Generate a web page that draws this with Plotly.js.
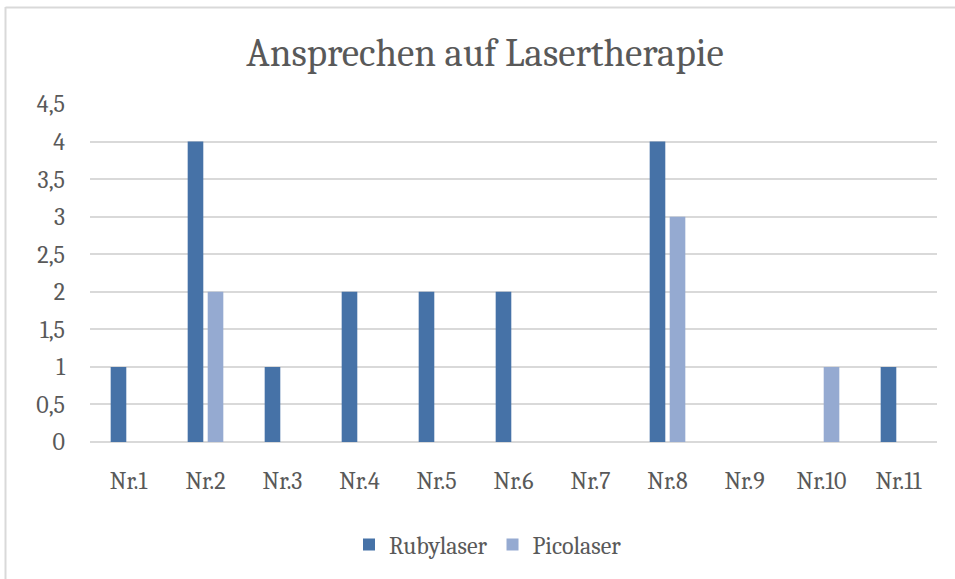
<!DOCTYPE html>
<html>
<head>
<meta charset="utf-8">
<script src="https://cdn.plot.ly/plotly-3.0.1.min.js"></script>
<style>html,body{margin:0;padding:0;background:#fff;}#chart{width:955px;height:579px;}</style>
</head>
<body>
<div id="chart"></div>
<script>
const categories = ["Nr.1","Nr.2","Nr.3","Nr.4","Nr.5","Nr.6","Nr.7","Nr.8","Nr.9","Nr.10","Nr.11"];
const rubylaser = [1,4,1,2,2,2,0,4,0,0,1];
const picolaser = [0,2,0,0,0,0,0,3,0,1,0];
const yTickVals = [0,0.5,1,1.5,2,2.5,3,3.5,4,4.5];
const yTickText = ["0","0,5","1","1,5","2","2,5","3","3,5","4","4,5"];

const W = 955, H = 579;
const M = {l: 90, r: 18, t: 104, b: 137};
const pw = W - M.l - M.r, ph = H - M.t - M.b;
const px = v => (v - M.l) / pw;
const py = v => (H - M.b - v) / ph;

const font = "Cambria, 'DejaVu Serif', 'Liberation Serif', serif";
const traces = [
  {type: 'bar', name: 'Rubylaser', x: categories, y: rubylaser, marker: {color: '#4672A7'}},
  {type: 'bar', name: 'Picolaser', x: categories, y: picolaser, marker: {color: '#95AAD1'}}
];
const layout = {
  width: W, height: H,
  margin: M,
  paper_bgcolor: '#fff', plot_bgcolor: '#fff',
  font: {family: font, color: '#595959', size: 24},
  title: {text: 'Ansprechen auf Lasertherapie', font: {family: font, size: 39, color: '#595959'}, x: 485/W, xanchor: 'center', y: 1 - 52/H, yanchor: 'middle'},
  barmode: 'group', bargap: 0.48, bargroupgap: 0.22,
  xaxis: {type: 'category', showgrid: false, showline: false, zeroline: false, ticks: '', ticklabelstandoff: 22, tickfont: {size: 24}},
  yaxis: {range: [0, 4.5], tickvals: yTickVals, ticktext: yTickText, showgrid: true, gridcolor: '#d9d9d9', gridwidth: 1.5, zeroline: true, zerolinecolor: '#d9d9d9', zerolinewidth: 1.5, showline: false, ticks: '', ticklabelstandoff: 24, tickfont: {size: 24}},
  showlegend: true,
  legend: {orientation: 'h', x: px(488), xanchor: 'center', y: py(545), yanchor: 'middle', font: {size: 24}, itemwidth: 30, traceorder: 'normal'},
  shapes: [
    {type: 'line', xref: 'paper', yref: 'paper', x0: px(5.5), x1: px(5.5), y0: py(7), y1: py(590), line: {color: '#d9d9d9', width: 2}},
    {type: 'line', xref: 'paper', yref: 'paper', x0: px(5.5), x1: px(960), y0: py(7.5), y1: py(7.5), line: {color: '#d9d9d9', width: 2}}
  ]
};
Plotly.newPlot('chart', traces, layout, {displayModeBar: false});
</script>
</body>
</html>
